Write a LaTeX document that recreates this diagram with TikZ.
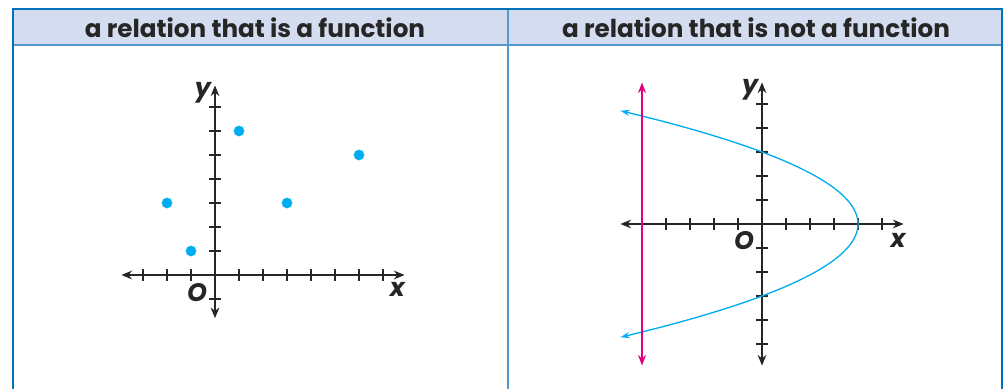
\documentclass[tikz,border=0pt]{standalone}
\usepackage{fontspec}
\newfontfamily\headfont{Poppins}
\usetikzlibrary{arrows.meta}

\definecolor{frameblue}{RGB}{0,114,188}
\definecolor{ruleblue}{RGB}{84,152,206}
\definecolor{headfill}{RGB}{212,221,239}
\definecolor{dotblue}{RGB}{0,174,239}
\definecolor{linemag}{RGB}{228,0,124}

\begin{document}
\begin{tikzpicture}[
    x=0.75pt, y=0.75pt,
    headtext/.style={font=\headfont\bfseries\fontsize{18.5}{18.5}\selectfont, text=black!85},
    axis/.style={line width=1.5pt, black!85, {Stealth[length=8pt,width=6.5pt]}-{Stealth[length=8pt,width=6.5pt]}},
    tick/.style={line width=1pt, black!85},
    axlabel/.style={font=\headfont\bfseries\itshape\fontsize{19}{19}\selectfont, inner sep=0pt, text=black!85}
]

\useasboundingbox (0,0) rectangle (1003,389);

% table frame
\fill[headfill] (12.5,344) rectangle (1001.5,380);
\draw[ruleblue, line width=1.2pt] (12.5,344) -- (1001.5,344);
\draw[ruleblue, line width=1.5pt] (508,-6) -- (508,380);
\draw[frameblue, line width=1.5pt] (12.5,-6) -- (12.5,380) -- (1001.5,380) -- (1001.5,-6);

\node[headtext] (lefthead) at (255,361) {a relation that is a function};
\node[headtext] (righthead) at (756,361) {a relation that is not a function};

% left graph: a function
\begin{scope}[shift={(161.25pt,85.5pt)}, x=18pt, y=18pt]
\draw[axis] (-3.9,0) -- (7.9,0);
\draw[axis] (0,-1.8) -- (0,7.9);
\foreach \i in {-3,-2,-1,1,2,3,4,5,6,7}
    \draw[tick] (\i,-0.24) -- (\i,0.24);
\foreach \j in {-1,1,2,3,4,5,6,7}
    \draw[tick] (-0.24,\j) -- (0.24,\j);

\fill[dotblue] (-2,3) circle (4pt);
\fill[dotblue] (-1,1) circle (4pt);
\fill[dotblue] (1,6) circle (4pt);
\fill[dotblue] (3,3) circle (4pt);
\fill[dotblue] (6,5) circle (4pt);

\node[axlabel] (leftx) at (7.6,-0.62) {x};
\node[axlabel] (lefty) at (-0.5,7.6) {y};
\node[axlabel] (lefto) at (-0.75,-0.75) {O};
\end{scope}

% right graph: not a function
\begin{scope}[shift={(571.5pt,123.75pt)}, x=18pt, y=18pt]
\draw[axis] (-5.9,0) -- (5.9,0);
\draw[axis] (0,-5.9) -- (0,5.9);
\foreach \i in {-5,-4,-3,-2,-1,1,2,3,4,5}
    \draw[tick] (\i,-0.24) -- (\i,0.24);
\foreach \j in {-5,-4,-3,-2,-1,1,2,3,4,5}
    \draw[tick] (-0.24,\j) -- (0.24,\j);

\draw[dotblue, line width=1pt, {Stealth[length=7pt,width=4.5pt]}-{Stealth[length=7pt,width=4.5pt]},
      smooth, samples=80, domain=-4.72:4.72, variable=\t]
    plot ({4-4*\t*\t/9},\t);

\draw[linemag, line width=1.5pt, {Stealth[length=8pt,width=6pt]}-{Stealth[length=8pt,width=6pt]}]
    (-5,-5.9) -- (-5,5.9);

\node[axlabel] (rightx) at (5.67,-0.67) {x};
\node[axlabel] (righty) at (-0.5,5.6) {y};
\node[axlabel] (righto) at (-0.75,-0.67) {O};
\end{scope}

\end{tikzpicture}
\end{document}
